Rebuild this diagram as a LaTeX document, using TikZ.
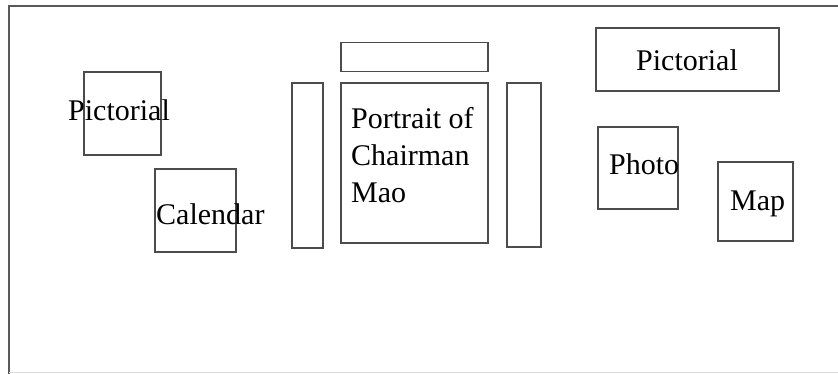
\documentclass[tikz,border=0pt]{standalone}
\usepackage{fontspec}
\setmainfont{Liberation Serif}
\usetikzlibrary{positioning}

\begin{document}
\begin{tikzpicture}[x=1pt, y=-1pt,
		box/.style = {draw=black!70, line width=1.8pt, inner sep=0pt},
		lbl/.style = {font=\fontsize{30}{37}\selectfont, inner sep=0pt}]
		\useasboundingbox (0,0) rectangle (838,374);
		% frame
		\draw[black!65, line width=1.8pt] (838,6) -- (9,6) -- (9,374);
		\draw[black!15, line width=1pt] (9,372.5) -- (838,372.5);
		% boxes
		\node[box, minimum width=77pt, minimum height=83pt] (pic1) at (122.5,113.5) {};
		\node[box, minimum width=81pt, minimum height=83pt] (cal) at (195.5,210.5) {};
		\node[box, minimum width=31pt, minimum height=165pt] (barl) at (307.5,165.5) {};
		\node[box, minimum width=147pt, minimum height=29pt] (bartop) at (414.5,57) {};
		\node[box, minimum width=147pt, minimum height=160pt] (mao) at (414.5,163) {};
		\node[box, minimum width=34pt, minimum height=164pt] (barr) at (524,165) {};
		\node[box, minimum width=183pt, minimum height=63pt] (pic2) at (687.5,59.5) {};
		\node[box, minimum width=80pt, minimum height=82pt] (photo) at (638,168) {};
		\node[box, minimum width=75pt, minimum height=79pt] (map) at (755.5,201.5) {};
		% labels
		\node[lbl, anchor=base] (tpic1) at (119,121) {Pictorial};
		\node[lbl, anchor=base west] (tcal) at (156,225) {Calendar};
		\node[lbl, anchor=base west, align=left] (tmao) at (351,203)
			{Portrait of\\Chairman\\Mao};
		\node[lbl, anchor=base] (tpic2) at (687,71) {Pictorial};
		\node[lbl, anchor=base west] (tphoto) at (609,175) {Photo};
		\node[lbl, anchor=base west] (tmap) at (730,211) {Map};
\end{tikzpicture}
\end{document}
